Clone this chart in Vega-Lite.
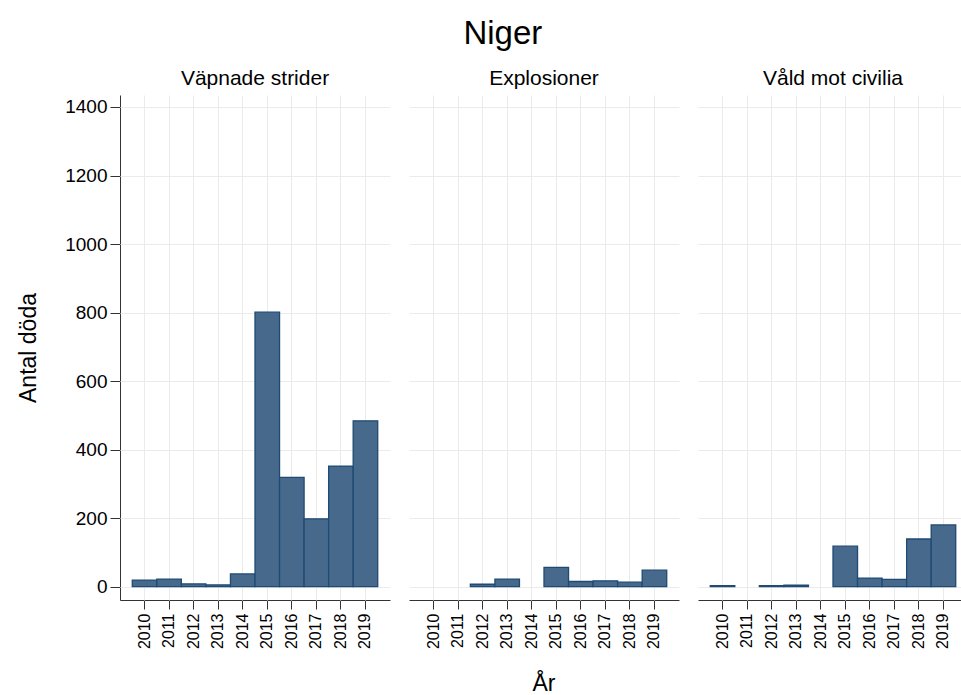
{
  "$schema": "https://vega.github.io/schema/vega-lite/v6.json",
  "background": "white",
  "padding": {"left": 17, "top": 18, "right": 0, "bottom": 0},
  "title": {"text": "Niger", "fontSize": 33, "font": "Liberation Sans", "fontWeight": "normal", "color": "black", "anchor": "middle", "offset": 17, "dx": 10},
  "data": {"values": [
    {"typ": "Väpnade strider", "year": "2010", "value": 19},
    {"typ": "Väpnade strider", "year": "2011", "value": 22},
    {"typ": "Väpnade strider", "year": "2012", "value": 8},
    {"typ": "Väpnade strider", "year": "2013", "value": 5},
    {"typ": "Väpnade strider", "year": "2014", "value": 37},
    {"typ": "Väpnade strider", "year": "2015", "value": 801},
    {"typ": "Väpnade strider", "year": "2016", "value": 319},
    {"typ": "Väpnade strider", "year": "2017", "value": 198},
    {"typ": "Väpnade strider", "year": "2018", "value": 352},
    {"typ": "Väpnade strider", "year": "2019", "value": 484},
    {"typ": "Explosioner", "year": "2012", "value": 7},
    {"typ": "Explosioner", "year": "2013", "value": 22},
    {"typ": "Explosioner", "year": "2015", "value": 56},
    {"typ": "Explosioner", "year": "2016", "value": 15},
    {"typ": "Explosioner", "year": "2017", "value": 17},
    {"typ": "Explosioner", "year": "2018", "value": 13},
    {"typ": "Explosioner", "year": "2019", "value": 48},
    {"typ": "Våld mot civilia", "year": "2010", "value": 3},
    {"typ": "Våld mot civilia", "year": "2012", "value": 3},
    {"typ": "Våld mot civilia", "year": "2013", "value": 4},
    {"typ": "Våld mot civilia", "year": "2015", "value": 118},
    {"typ": "Våld mot civilia", "year": "2016", "value": 25},
    {"typ": "Våld mot civilia", "year": "2017", "value": 21},
    {"typ": "Våld mot civilia", "year": "2018", "value": 139},
    {"typ": "Våld mot civilia", "year": "2019", "value": 180}
  ]},
  "facet": {
    "column": {
      "field": "typ", "type": "nominal",
      "sort": ["Väpnade strider", "Explosioner", "Våld mot civilia"],
      "title": "År",
      "header": {"titleOrient": "bottom", "labelOrient": "top", "titleFontSize": 23, "titleFont": "Liberation Sans", "titleFontWeight": "normal", "titleColor": "black", "titlePadding": 14, "labelFontSize": 21, "labelFont": "Liberation Sans", "labelColor": "black", "labelPadding": 6}
    }
  },
  "spacing": 19,
  "spec": {
    "width": 270,
    "height": 505,
    "mark": {"type": "bar", "fill": "#476a8c", "stroke": "#1f4a73", "strokeWidth": 1.3},
    "encoding": {
      "x": {
        "field": "year", "type": "ordinal", "title": null,
        "scale": {"domain": ["2010","2011","2012","2013","2014","2015","2016","2017","2018","2019"], "paddingInner": 0, "paddingOuter": 0.5},
        "axis": {"labelAngle": -90, "labelFontSize": 16, "labelFont": "Liberation Sans", "labelColor": "black", "tickSize": 9, "tickColor": "#333", "domainColor": "#333", "labelPadding": 4, "grid": true, "gridColor": "#ebebeb", "bandPosition": 0.5}
      },
      "y": {
        "field": "value", "type": "quantitative", "title": "Antal döda",
        "scale": {"domain": [-39, 1435], "nice": false, "zero": false},
        "axis": {"values": [0,200,400,600,800,1000,1200,1400], "format": "d", "labelFontSize": 19, "labelFont": "Liberation Sans", "labelColor": "black", "tickSize": 10, "tickColor": "#333", "domainColor": "#333", "labelPadding": 3, "gridColor": "#ebebeb", "titleFontSize": 23, "titleFont": "Liberation Sans", "titleFontWeight": "normal", "titleColor": "black", "titlePadding": 24}
      }
    }
  },
  "config": {"view": {"stroke": null}}
}
